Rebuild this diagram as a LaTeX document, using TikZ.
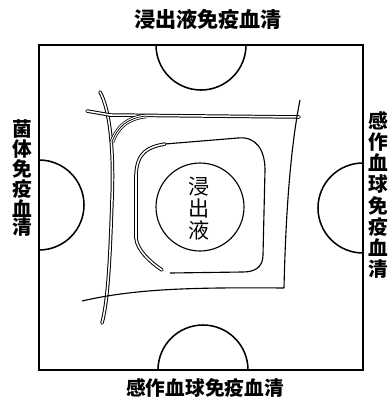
\documentclass[tikz,border=0pt]{standalone}
\usepackage{fontspec}
\newfontfamily\cjk{Noto Sans CJK SC}
\usepackage{tikz}
\usetikzlibrary{calc}

\begin{document}
\begin{tikzpicture}[x=0.025cm,y=-0.025cm,
    lab/.style={font=\cjk\bfseries\fontsize{14}{15}\selectfont,inner sep=0pt,align=center},
    well/.style={line width=1.1pt},
    twin/.style={line width=2.5pt,line cap=round,postaction={draw=white,line width=1.1pt}},
    triple/.style={line width=3.2pt,postaction={draw=white,line width=2.1pt},postaction={draw=black,line width=0.5pt}},
    thin line/.style={line width=0.8pt}]
        \useasboundingbox (0,0) rectangle (390,401);
        %piastra
        \draw[line width=1.4pt] (39,45) rectangle (363,370);
        %pozzetti ai lati
        \draw[well] (156,45) arc[start angle=180,end angle=0,radius=45];
        \draw[well] (158,370) arc[start angle=180,end angle=360,radius=45];
        \draw[well] (39,160) arc[start angle=-90,end angle=90,radius=45];
        \draw[well] (363,163) arc[start angle=-90,end angle=-270,radius=45];
        %pozzetto centrale
        \node[draw,circle,thin line,minimum size=88*0.025cm,inner sep=0pt] (centro) at (200,207) {};
        \node[lab,font=\cjk\fontsize{15}{15.6}\selectfont] (estratto) at (199,209) {浸\\出\\液};
        %scritte esterne
        \node[lab,font=\cjk\bfseries\fontsize{15}{15}\selectfont] (sopra) at (208,19) {浸出液免疫血清};
        \node[lab] (sotto) at (205,388) {感作血球免疫血清};
        \node[lab,font=\cjk\bfseries\fontsize{14}{13}\selectfont] (sinistra) at (22,178) {菌\\体\\免\\疫\\血\\清};
        \node[lab] (destra) at (378,195) {感\\作\\血\\球\\免\\疫\\血\\清};
        %linee di precipitazione
        \draw[twin] (100,92) .. controls (110,110) and (114,150) .. (112,200) .. controls (110,260) and (108,300) .. (102,323);
        \draw[twin] (87,111) -- (110,115) -- (299,117);
        \draw[thin line] (300,100) .. controls (292,140) and (286,200) .. (284,288);
        \draw[thin line] (82,301) .. controls (130,290) and (180,287) .. (284,288);
        \draw[triple] (112,142) .. controls (118,126) and (128,118) .. (146,116);
        %anello intorno al centro
        \draw[twin] (165,144) .. controls (148,147) and (137,152) .. (136,175) -- (136,238) .. controls (137,250) and (150,262) .. (162,270);
        \draw[thin line] (165,144) -- (238,138) .. controls (256,136) and (265,150) .. (265,170) -- (263,255) .. controls (263,267) and (255,272) .. (243,272) -- (170,273);
\end{tikzpicture}
\end{document}
